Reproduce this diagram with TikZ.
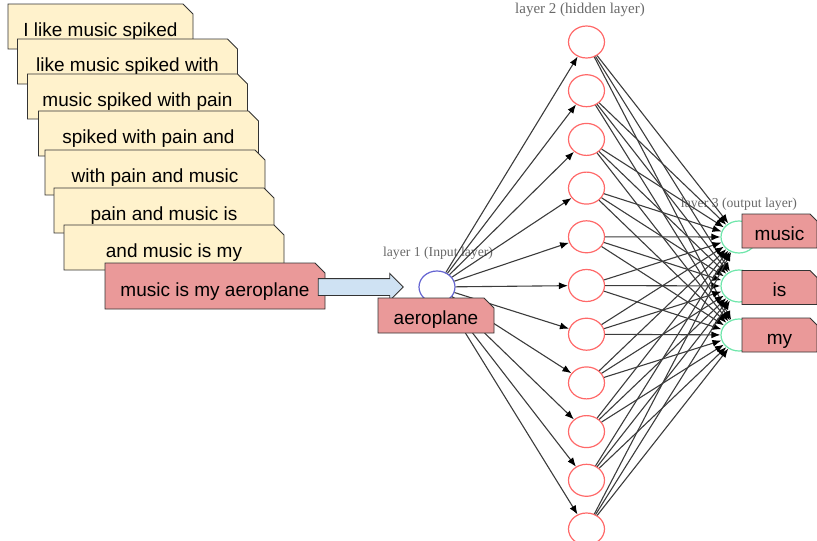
\documentclass[tikz,border=0pt]{standalone}
\usepackage{fontspec}
\setmainfont{Liberation Sans}
\newfontfamily\layerfont{Liberation Serif}
\usetikzlibrary{shapes.misc,shapes.arrows,shapes.geometric,arrows.meta}
\definecolor{cardyellow}{RGB}{255,242,204}
\definecolor{cardred}{RGB}{234,153,153}
\definecolor{arrowblue}{RGB}{207,226,243}
\definecolor{inblue}{RGB}{100,100,210}
\definecolor{hidred}{RGB}{255,105,105}
\definecolor{outgreen}{RGB}{110,230,170}
\definecolor{edgegray}{RGB}{60,60,60}
\definecolor{labelgray}{RGB}{105,105,105}
\tikzset{
  card/.style={chamfered rectangle, chamfered rectangle corners=north east,
    chamfered rectangle xsep=5pt, chamfered rectangle ysep=5pt,
    draw=black!80, line width=0.9pt, fill=#1, inner sep=0pt,
    font=\fontsize{19}{22}\selectfont, text height=20pt, text depth=0pt},
  neuron/.style={ellipse, minimum width=36pt, minimum height=32pt, inner sep=0pt,
    fill=white, line width=1.2pt},
  edge/.style={draw=edgegray, line width=1.1pt, -{Latex[length=9pt,width=7pt,color=black]}},
  layerlabel/.style={text=labelgray, font=\layerfont\fontsize{13.7}{16}\selectfont, inner sep=0pt},
  blockarrow/.style={single arrow, draw=black!80, fill=arrowblue, line width=0.9pt,
    minimum height=85pt, minimum width=26pt, inner sep=8pt, single arrow head extend=5pt}
}
\begin{document}
\begin{tikzpicture}[x=1pt,y=-1pt]
  \useasboundingbox (0,0) rectangle (817,541);
  % the sliding windows of the sentence
  \node[card=cardyellow, minimum width=185pt, minimum height=45pt] (c1) at (100.5,26.5) {I like music spiked};
  \foreach \n/\x/\y/\txt in {c2/127.5/61.5/like music spiked with, c3/137.5/96.5/music spiked with pain,
      c4/148.5/133.5/spiked with pain and, c5/155/172.5/with pain and music,
      c6/164/210.5/pain and music is, c7/174/247.5/and music is my}{%
    \node[card=cardyellow, minimum width=220pt, minimum height=45pt] (\n) at (\x,\y) {\txt};}
  \node[card=cardred, minimum width=220pt, minimum height=46pt] (c8) at (215,286) {music is my aeroplane};
  \node[blockarrow] (feed) at (356.5,287) {};

  \node[layerlabel] (l1) at (438,253) {layer 1 (Input layer)};
  \node[layerlabel, font=\layerfont\fontsize{15}{17}\selectfont] (l2) at (580,10) {layer 2 (hidden layer)};
  \node[layerlabel] (l3) at (739,204) {layer 3 (output layer)};

  \node[neuron, draw=inblue] (in) at (437,287) {};
  \foreach \i in {0,...,10}{% hidden units
    \node[neuron, draw=hidred] (h\i) at (586.5,{42+48.7*\i}) {};}
  \foreach \o/\y in {o1/237,o2/286,o3/335}{
    \node[neuron, draw=outgreen] (\o) at (739,\y) {};}

  \foreach \i in {0,...,10}{
    \draw[edge] (in) -- (h\i);
    \foreach \o in {o1,o2,o3} \draw[edge] (h\i) -- (\o);}

  \node[card=cardred, minimum width=116pt, minimum height=35pt, text height=18pt] (word) at (436,315.5) {aeroplane};
  \foreach \w/\y/\txt in {w1/231/music, w2/287.5/is, w3/335/my}{
    \node[card=cardred, minimum width=75pt, minimum height=34pt, text height=18pt,
      chamfered rectangle xsep=3.5pt, chamfered rectangle ysep=3.5pt] (\w) at (779.5,\y) {\txt};}
\end{tikzpicture}
\end{document}
